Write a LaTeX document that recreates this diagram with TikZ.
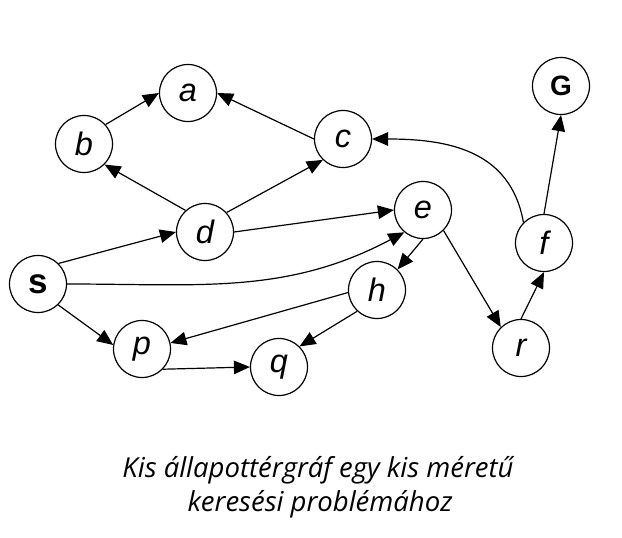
\documentclass[tikz,border=0pt]{standalone}
\usepackage{fontspec}
\setmainfont{Liberation Sans}
\newfontfamily\capfont{Open Sans}
\usetikzlibrary{arrows.meta}
\begin{document}
\begin{tikzpicture}[x=1pt,y=1pt,
  st/.style={circle,draw,line width=1.2pt,minimum size=57pt,inner sep=0pt,font=\fontsize{32.5}{32.5}\selectfont\itshape},
  bst/.style={st,font=\fontsize{35}{35}\selectfont\bfseries},
  gst/.style={st,font=\fontsize{28}{28}\selectfont\bfseries},
  arr/.style={line width=1.2pt,-{Triangle[length=16pt,width=13.5pt]}},
  captext/.style={font=\capfont\itshape\fontsize{27.5}{27.5}\selectfont,anchor=base}]
\useasboundingbox (0,0) rectangle (622,-538);
\node[st] (a) at (188,-93) {a};
\node[st] (b) at (84,-144) {b};
\node[st] (c) at (343,-139) {c};
\node[gst] (G) at (561,-86) {G};
\node[st] (d) at (205,-232) {d};
\node[st] (e) at (423,-210) {e};
\node[st] (f) at (544,-243) {f};
\node[bst] (s) at (38,-284) {s};
\node[st] (h) at (377,-290) {h};
\node[st] (p) at (142,-349) {p};
\node[st] (q) at (279,-367) {q};
\node[st] (r) at (521,-348) {r};
\draw[arr] (b.42) -- (a.west);
\draw[arr] (c.west) -- (a.east);
\draw[arr] (d.132) -- (b.-45);
\draw[arr] (d.42) -- (c.-134);
\draw[arr] (d.east) -- (e.west);
\draw[arr] (s.45) -- (d.west);
\draw[arr] (s.east) to[out=0,in=-152] (e.-130);
\draw[arr] (s.-46) -- (p.172);
\draw[arr] (e.-90) -- (h.45);
\draw[arr] (e.-45) -- (r.134);
\draw[arr] (h.185) -- (p.12);
\draw[arr] (h.-133) -- (q.45);
\draw[arr] (p.-44) -- (q.west);
\draw[arr] (r.north) -- (f.south);
\draw[arr] (f.north) -- (G.south);
\draw[arr] (f.135) to[out=100,in=0,looseness=1.1] (c.east);
\node[captext] (cap1) at (318,-477) {Kis állapottérgráf egy kis méretű};
\node[captext] (cap2) at (320,-511) {keresési problémához};
\end{tikzpicture}
\end{document}
